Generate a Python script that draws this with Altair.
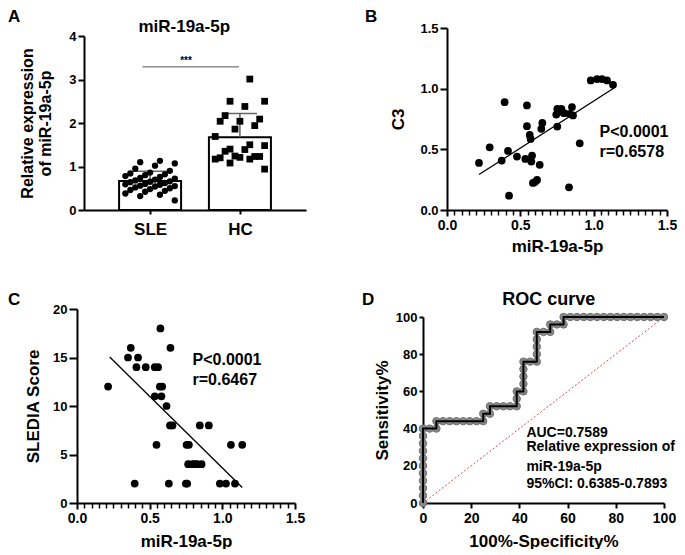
import altair as alt
import pandas as pd

FONT = "Liberation Sans"

# ---------------- data ----------------
# Panel A: relative expression of miR-19a-5p
sle_expr = [1.13, 1.10, 1.07, 1.02, 0.95, 0.90, 0.86, 0.84, 0.82, 0.80, 0.78, 0.76,
            0.74, 0.72, 0.70, 0.68, 0.66, 0.65, 0.64, 0.62, 0.60, 0.59, 0.58, 0.56,
            0.55, 0.54, 0.52, 0.50, 0.48, 0.46, 0.44, 0.42, 0.38, 0.35, 0.32, 0.22]
hc_expr = [3.01, 2.50, 2.50, 2.38, 2.17, 2.09, 2.04, 2.04, 1.94, 1.86, 1.69, 1.50,
           1.40, 1.48, 1.39, 1.35, 1.23, 1.21, 1.20, 1.23, 1.24, 1.17, 1.17, 1.08, 0.94]
groups = ["SLE", "HC"]
sig_x = [0.915, 1.99]
sig_y = 3.29

# Panel B: C3 vs miR-19a-5p
b_mir = [0.218, 0.393, 0.291, 0.373, 0.416, 0.423, 0.477, 0.545, 0.545, 0.534, 0.564, 0.570,
         0.575, 0.580, 0.586, 0.614, 0.632, 0.643, 0.650, 0.752, 0.752, 0.745, 0.780, 0.798,
         0.836, 0.852, 0.859, 0.832, 0.905, 0.980, 1.023, 1.057, 1.091, 1.132, 0.770, 0.600]
b_c3 = [0.388, 0.889, 0.517, 0.407, 0.487, 0.118, 0.440, 0.862, 0.691, 0.421, 0.619, 0.586,
        0.399, 0.449, 0.223, 0.248, 0.372, 0.669, 0.718, 0.688, 0.834, 0.787, 0.834, 0.798,
        0.793, 0.848, 0.779, 0.187, 0.550, 1.068, 1.079, 1.079, 1.068, 1.032, 0.810, 0.230]
b_fit_x = [0.218, 1.139]
b_fit_y = [0.292, 1.005]
b_text = ["P<0.0001", "r=0.6578"]

# Panel C: SLEDAI score vs miR-19a-5p
c_mir = [0.214, 0.351, 0.370, 0.420, 0.409, 0.473, 0.535, 0.558, 0.574, 0.535, 0.581, 0.570,
         0.586, 0.616, 0.643, 0.640, 0.657, 0.547, 0.397, 0.632, 0.749, 0.758, 0.754, 0.770,
         0.765, 0.795, 0.827, 0.857, 0.810, 0.845, 0.907, 0.983, 1.025, 1.087, 1.059, 1.137]
c_score = [12, 15, 16, 15, 14, 14, 14, 14, 18, 11, 11, 12,
           12, 10, 16, 8, 8, 6, 2, 2, 2, 2, 6, 6,
           4, 4, 4, 4, 4, 8, 8, 2, 2, 2, 6, 6]
c_fit_x = [0.225, 1.137]
c_fit_y = [15.05, 1.6]
c_text = ["P<0.0001", "r=0.6467"]

# Panel D: ROC curve (percent)
roc_fpr = [0, 0, 0, 0, 0, 0, 0, 0, 0, 0, 0,
           2.78, 5.56, 5.56,
           8.33, 11.11, 13.89, 16.67, 19.44, 22.22, 25.0,
           25.0, 27.78, 27.78,
           30.56, 33.33, 36.11, 38.89,
           38.89, 38.89, 41.67, 41.67, 41.67, 41.67, 41.67,
           44.44, 47.22, 47.22, 47.22, 47.22, 47.22,
           50.0, 52.78, 52.78, 55.56, 58.33, 58.33,
           61.11, 63.89, 66.67, 69.44, 72.22, 75.0, 77.78, 80.56, 83.33, 86.11,
           88.89, 91.67, 94.44, 97.22, 100.0]
roc_tpr = [0, 4, 8, 12, 16, 20, 24, 28, 32, 36, 40,
           40, 40, 44,
           44, 44, 44, 44, 44, 44, 44,
           48, 48, 52,
           52, 52, 52, 52,
           56, 60, 60, 64, 68, 72, 76,
           76, 76, 80, 84, 88, 92,
           92, 92, 96, 96, 96, 100,
           100, 100, 100, 100, 100, 100, 100, 100, 100, 100,
           100, 100, 100, 100, 100]
diag = [0, 100]
d_text = ["AUC=0.7589", "Relative expression of", "miR-19a-5p", "95%CI: 0.6385-0.7893"]
d_text_y = [37.7, 29.9, 19.6, 10.0]


# ---------------- helpers ----------------
def ax(**kw):
    base = dict(domainColor="black", domainWidth=2, tickColor="black", tickWidth=2,
                tickSize=6, labelFont=FONT, labelFontWeight="bold", labelFontSize=13,
                labelColor="black", titleFont=FONT, titleFontWeight="bold",
                titleFontSize=17, titleColor="black", grid=False, labelPadding=2)
    base.update(kw)
    return alt.Axis(**base)


def txt(size, **kw):
    return dict(font=FONT, fontWeight="bold", fontSize=size, color="black", **kw)


def letter(ch, dx, dy):
    return alt.Chart(pd.DataFrame({"t": [ch]})).mark_text(
        **txt(17, align="left", baseline="top")
    ).encode(text="t:N", x=alt.value(dx), y=alt.value(dy))


mir_major = [0, 0.5, 1.0, 1.5]
mir_minor = [round(i * 0.05, 2) for i in range(31) if i % 10 != 0]


def mir_major_axis(title_pad):
    return ax(values=mir_major, format=".1f", labelFlush=False, labelFontSize=14,
              tickSize=6, labelPadding=2, orient="bottom",
              title="miR-19a-5p", titlePadding=title_pad)


mir_minor_axis = alt.Axis(values=mir_minor, orient="bottom", labels=False, domain=False,
                          title=None, tickSize=5, tickWidth=1.5, tickColor="black",
                          grid=False)

# ---------------- Panel A ----------------
dfA = pd.DataFrame({"group": [groups[0]] * len(sle_expr) + [groups[1]] * len(hc_expr),
                    "value": sle_expr + hc_expr})
xA_scale = alt.Scale(domain=[0.32, 2.68])
yA_scale = alt.Scale(domain=[0, 4], range=[182, 8])
xA_axis = ax(values=[1, 2], labelExpr="datum.value == 1 ? 'SLE' : 'HC'", labelFontSize=17,
             tickSize=4, labelPadding=7, title=None)
yA_axis = ax(values=[0, 1, 2, 3, 4], title=["Relative expression", "of miR-19a-5p"],
             titleFontSize=16, titleLineHeight=18, titlePadding=15, labelFontSize=13)


def XA(f):
    return alt.X(f, type="quantitative", scale=xA_scale, axis=xA_axis)


def YA(f):
    return alt.Y(f, type="quantitative", scale=yA_scale, axis=yA_axis)


baseA = alt.Chart(dfA).transform_calculate(c="datum.group == 'SLE' ? 1 : 2")
barsA = baseA.transform_aggregate(m="mean(value)", groupby=["c"]).mark_bar(
    size=62, fill="white", stroke="black", strokeWidth=2
).encode(x=XA("c"), y=YA("m"))
errA = baseA.transform_aggregate(m="mean(value)", sd="stdev(value)", groupby=["c"]) \
    .transform_calculate(hi="datum.m + datum.sd", l="datum.c - 0.19", r="datum.c + 0.19")
err_rule = errA.mark_rule(color="#666", strokeWidth=1.5).encode(x=XA("c"), y=YA("m"), y2="hi:Q")
err_cap = errA.mark_rule(color="#666", strokeWidth=1.5).encode(x=XA("l"), x2="r:Q", y=YA("hi"))
ptsA = baseA.transform_window(i="row_number()", groupby=["group"]) \
    .transform_calculate(px="datum.c + ((datum.i * 7) % 11 - 5) * 0.055")
pts_sle = ptsA.transform_filter("datum.group == 'SLE'").mark_circle(
    size=40, color="black", opacity=1).encode(x=XA("px"), y=YA("value"))
pts_hc = ptsA.transform_filter("datum.group == 'HC'").mark_square(
    size=46, color="black", opacity=1).encode(x=XA("px"), y=YA("value"))
sigA = alt.Chart(pd.DataFrame({"x": [sig_x[0]], "x2": [sig_x[1]], "y": [sig_y]})).mark_rule(
    color="#555", strokeWidth=1).encode(x=XA("x"), x2="x2:Q", y=YA("y"))
starA = alt.Chart(pd.DataFrame({"x": [1.40], "y": [sig_y], "t": ["***"]})).mark_text(
    **txt(10, baseline="bottom", dy=-1)).encode(x=XA("x"), y=YA("y"), text="t:N")
titleA = alt.Chart(pd.DataFrame({"x": [1.38], "y": [4.09], "t": ["miR-19a-5p"]})).mark_text(
    **txt(17, baseline="alphabetic")).encode(x=XA("x"), y=YA("y"), text="t:N")
panelA = alt.layer(barsA, err_rule, err_cap, pts_sle, pts_hc, sigA, starA, titleA,
                   letter("A", -76, -19)).properties(width=222, height=182)

# ---------------- Panel B ----------------
xB_scale = alt.Scale(domain=[0, 1.5])
yB_scale = alt.Scale(domain=[0, 1.5])
yB_axis = ax(values=[0, 0.5, 1.0, 1.5], format=".1f", tickSize=7, title="C3", titlePadding=12)


def xB(f, axis):
    return alt.X(f, type="quantitative", scale=xB_scale, axis=axis)


def yB(f):
    return alt.Y(f, type="quantitative", scale=yB_scale, axis=yB_axis)


dfB = pd.DataFrame({"x": b_mir, "y": b_c3})
ptsB = alt.Chart(dfB).mark_circle(size=60, color="black", opacity=1).encode(
    x=xB("x", mir_major_axis(6)), y=yB("y"))
fitB = alt.Chart(pd.DataFrame({"x": b_fit_x, "y": b_fit_y})).mark_line(
    color="black", strokeWidth=1.3).encode(x=xB("x", mir_minor_axis), y=yB("y"))
textB = alt.Chart(pd.DataFrame({"x": [1.04, 1.04], "y": [0.644, 0.479], "t": b_text})).mark_text(
    **txt(16, align="left", baseline="middle")).encode(x=xB("x", None), y=yB("y"), text="t:N")
panelB = alt.layer(ptsB, fitB, textB, letter("B", -82, -19)).resolve_axis(
    x="independent").properties(width=220, height=182)

# ---------------- Panel C ----------------
# C's origin is aligned with A's; the scale range starts 7px left of it
xC_scale = alt.Scale(domain=[0, 1.5], range=[-7, 211])
yC_scale = alt.Scale(domain=[0, 20])
yC_axis = ax(values=[0, 5, 10, 15, 20], tickSize=8, title="SLEDIA Score", titlePadding=10,
             offset=7)


def xC(f, axis):
    return alt.X(f, type="quantitative", scale=xC_scale, axis=axis)


def yC(f):
    return alt.Y(f, type="quantitative", scale=yC_scale, axis=yC_axis)


dfC = pd.DataFrame({"x": c_mir, "y": c_score})
ptsC = alt.Chart(dfC).mark_circle(size=60, color="black", opacity=1).encode(
    x=xC("x", mir_major_axis(8)), y=yC("y"))
fitC = alt.Chart(pd.DataFrame({"x": c_fit_x, "y": c_fit_y})).mark_line(
    color="black", strokeWidth=1.3).encode(x=xC("x", mir_minor_axis), y=yC("y"))
textC = alt.Chart(pd.DataFrame({"x": [0.795, 0.795], "y": [14.74, 12.7], "t": c_text})).mark_text(
    **txt(16, align="left", baseline="middle")).encode(x=xC("x", None), y=yC("y"), text="t:N")
panelC = alt.layer(ptsC, fitC, textC, letter("C", -76, -17)).resolve_axis(
    x="independent").properties(width=211, height=194)

# ---------------- Panel D ----------------
xD_scale = alt.Scale(domain=[0, 100])
yD_scale = alt.Scale(domain=[0, 100], range=[194, 8])
xD_axis = ax(values=[0, 20, 40, 60, 80, 100], labelFontSize=14, labelFlush=False,
             tickSize=5, labelPadding=3, title="100%-Specificity%", titlePadding=8)
yD_axis = ax(values=[0, 20, 40, 60, 80, 100], tickSize=4, title="Sensitivity%", titlePadding=4)


def xD(f):
    return alt.X(f, type="quantitative", scale=xD_scale, axis=xD_axis)


def yD(f):
    return alt.Y(f, type="quantitative", scale=yD_scale, axis=yD_axis)


dfD = pd.DataFrame({"x": roc_fpr, "y": roc_tpr, "i": list(range(len(roc_fpr)))})
diagD = alt.Chart(pd.DataFrame({"x": diag, "y": diag})).mark_line(
    color="#e8474b", strokeWidth=1, strokeDash=[2, 2]).encode(x=xD("x"), y=yD("y"))
ptsD = alt.Chart(dfD).mark_circle(size=55, color="#8a8a8a", opacity=1, stroke="#6f6f6f",
                                  strokeWidth=1).encode(x=xD("x"), y=yD("y"))
lineD = alt.Chart(dfD).mark_line(color="black", strokeWidth=2).encode(
    x=xD("x"), y=yD("y"), order="i:Q")
textD = alt.Chart(pd.DataFrame({"x": [42.9] * 4, "y": d_text_y, "t": d_text})).mark_text(
    **txt(14, align="left", baseline="middle")).encode(x=xD("x"), y=yD("y"), text="t:N")
titleD = alt.Chart(pd.DataFrame({"x": [52.2], "y": [106.3], "t": ["ROC curve"]})).mark_text(
    **txt(18, baseline="alphabetic")).encode(x=xD("x"), y=yD("y"), text="t:N")
panelD = alt.layer(diagD, ptsD, lineD, textD, titleD, letter("D", -61, -17)).properties(
    width=241, height=194)

# ---------------- layout ----------------
row1 = alt.hconcat(panelA, panelB, spacing=59)
row2 = alt.hconcat(panelC, panelD, spacing=57)
chart = alt.vconcat(row1, row2, spacing=37).properties(
    padding={"left": 0, "top": 0, "right": 0, "bottom": 0}
).configure_view(stroke=None)

chart.save("out.html", embed_options={"renderer": "svg", "actions": False})
